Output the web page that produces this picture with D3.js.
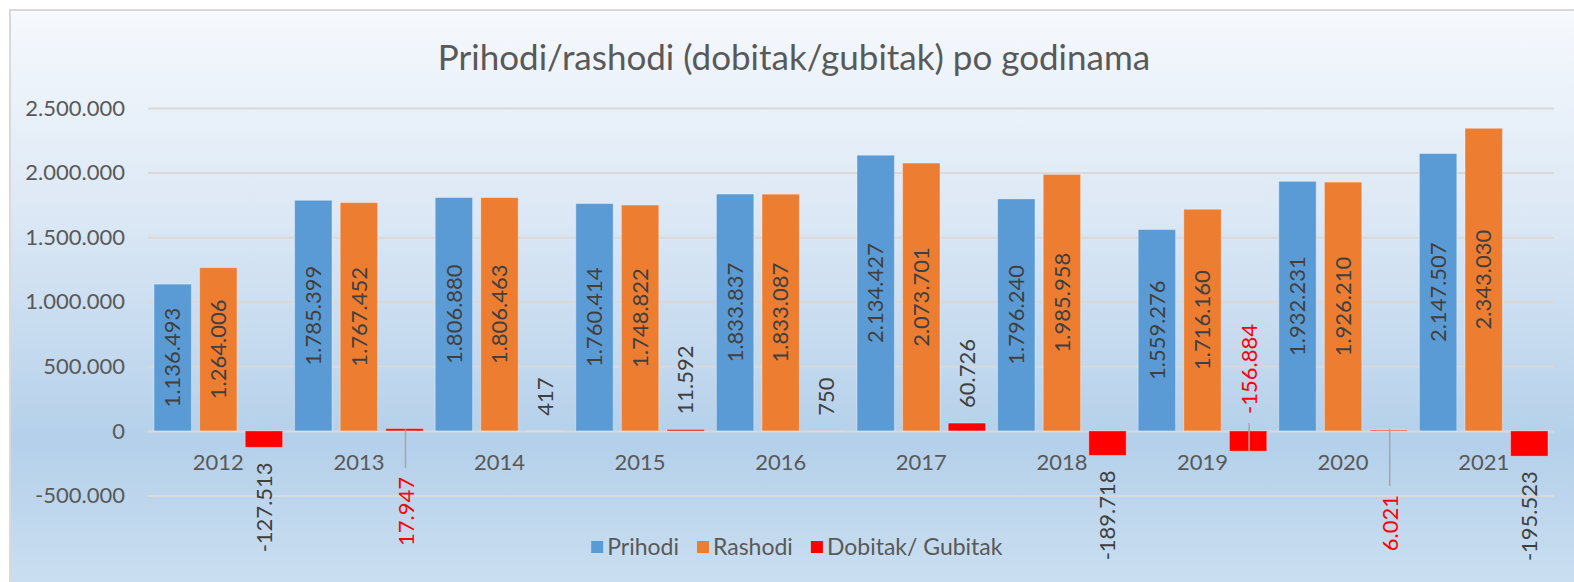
<!DOCTYPE html>
<html>
<head>
    <meta charset="utf-8">
    <style>
        body { margin: 0; background: #ffffff; }
        svg { display: block; font-family: Lato, "Open Sans", sans-serif; }
        .grid line { stroke: #d9d9d9; stroke-width: 2px; }
        .axis-label { fill: #595959; font-size: 22px; }
        .legend-label { fill: #595959; font-size: 23px; }
        .value-label { font-size: 22px; }
    </style>
</head>
<body>
    <script src="https://cdn.jsdelivr.net/npm/d3@7"></script>
    <script>
        // data
        var years = [2012, 2013, 2014, 2015, 2016, 2017, 2018, 2019, 2020, 2021];
        var prihodi = [1136493, 1785399, 1806880, 1760414, 1833837, 2134427, 1796240, 1559276, 1932231, 2147507];
        var rashodi = [1264006, 1767452, 1806463, 1748822, 1833087, 2073701, 1985958, 1716160, 1926210, 2343030];
        var dobitak = [-127513, 17947, 417, 11592, 750, 60726, -189718, -156884, 6021, -195523];
        var yTicks = [-500000, 0, 500000, 1000000, 1500000, 2000000, 2500000];
        var seriesNames = ["Prihodi", "Rashodi", "Dobitak/ Gubitak"];
        var colors = ["#5b9bd5", "#ed7d31", "#ff0000"];

        // labels that were dragged by hand and got a leader line (offset from zero line, px)
        var movedLabels = { 2013: 46, 2019: -17, 2020: 64 };

        var W = 1574, H = 582;
        var plot = { left: 148, right: 1554, top: 108, bottom: 495.5 };

        var svg = d3.select("body").append("svg")
            .attr("width", W)
            .attr("height", H);

        // background gradient of the chart area
        var defs = svg.append("defs");
        var grad = defs.append("linearGradient")
            .attr("id", "bg")
            .attr("x1", 0).attr("y1", 0).attr("x2", 0).attr("y2", 1);
        grad.append("stop").attr("offset", "0%").attr("stop-color", "#f6f9fd");
        grad.append("stop").attr("offset", "35%").attr("stop-color", "#dce8f5");
        grad.append("stop").attr("offset", "74%").attr("stop-color", "#b4d0ea");
        grad.append("stop").attr("offset", "100%").attr("stop-color", "#cbdff1");

        svg.append("rect")
            .attr("x", 10).attr("y", 10)
            .attr("width", W).attr("height", H)
            .attr("fill", "url(#bg)")
            .attr("stroke", "#d9d9d9")
            .attr("stroke-width", 2);

        // scales
        var x = d3.scaleBand().domain(years).range([plot.left, plot.right]).padding(0);
        var xs = d3.scaleBand().domain([0, 1, 2])
            .range([6, x.bandwidth() - 6])
            .paddingInner(0.18);
        var y = d3.scaleLinear().domain([-500000, 2500000]).range([plot.bottom, plot.top]);

        var loc = d3.formatLocale({ decimal: ",", thousands: ".", grouping: [3], currency: ["", ""], minus: "-" });
        var fmt = loc.format(",d");

        // gridlines
        svg.append("g")
            .attr("class", "grid")
            .attr("transform", "translate(" + plot.left + ",0)")
            .call(d3.axisLeft(y).tickValues(yTicks).tickSize(-(plot.right - plot.left)).tickFormat(""))
            .call(function (g) { g.select(".domain").remove(); });

        // y axis labels
        svg.append("g")
            .selectAll("text")
            .data(yTicks)
            .enter().append("text")
            .attr("class", "axis-label")
            .attr("x", 125)
            .attr("y", function (d) { return y(d); })
            .attr("dy", "0.35em")
            .style("text-anchor", "end")
            .text(function (d) { return fmt(d); });

        // bars
        var series = [prihodi, rashodi, dobitak];
        var rows = [];
        series.forEach(function (vals, s) {
            vals.forEach(function (v, i) {
                rows.push({ s: s, year: years[i], v: v });
            });
        });

        var y0 = y(0);
        svg.append("g")
            .selectAll("rect")
            .data(rows)
            .enter().append("rect")
            .attr("x", function (d) { return x(d.year) + xs(d.s); })
            .attr("width", xs.bandwidth())
            .attr("y", function (d) { return Math.min(y(d.v), y0); })
            .attr("height", function (d) { return Math.abs(y(d.v) - y0); })
            .attr("fill", function (d) { return colors[d.s]; })
            .attr("stroke", "rgba(255,255,255,0.35)")
            .attr("stroke-width", 1);

        // category labels next to zero line
        svg.append("g")
            .selectAll("text")
            .data(years)
            .enter().append("text")
            .attr("class", "axis-label")
            .attr("x", function (d) { return x(d) + x.bandwidth() / 2; })
            .attr("y", y0 + 39)
            .style("text-anchor", "middle")
            .text(function (d) { return d; });

        // labels of Prihodi / Rashodi, centred in the bar
        svg.append("g")
            .selectAll("text")
            .data(rows.filter(function (d) { return d.s < 2; }))
            .enter().append("text")
            .attr("class", "value-label")
            .attr("fill", "#404040")
            .attr("transform", function (d) {
                var cx = x(d.year) + xs(d.s) + xs.bandwidth() / 2;
                var cy = (y(d.v) + y0) / 2;
                return "translate(" + cx + "," + cy + ") rotate(-90)";
            })
            .attr("dy", "0.35em")
            .style("text-anchor", "middle")
            .text(function (d) { return fmt(d.v); });

        // labels of Dobitak/Gubitak
        var red = rows.filter(function (d) { return d.s === 2; });
        var lg = svg.append("g");
        red.forEach(function (d) {
            var cx = x(d.year) + xs(2) + xs.bandwidth() / 2;
            var moved = movedLabels[d.year];
            var ty, anchor, col = "#404040";
            if (moved !== undefined) {
                col = "#ff0000";
                ty = y0 + moved;
                anchor = moved > 0 ? "end" : "start";
                var lineFrom = moved > 0 ? ty - 9 : ty + 9;
                var lineTo = moved > 0 ? (d.v > 0 ? y0 - 2 : y(d.v)) : (d.v < 0 ? y(d.v) : y0);
                lg.append("line")
                    .attr("x1", cx + 1).attr("x2", cx + 1)
                    .attr("y1", lineFrom).attr("y2", lineTo)
                    .attr("stroke", "#a6a6a6")
                    .attr("stroke-width", 1.5);
                cx += 1.5;
            } else if (d.v >= 0) {
                ty = y(d.v) - 15;
                anchor = "start";
            } else {
                ty = y(d.v) + 15;
                anchor = "end";
            }
            lg.append("text")
                .attr("class", "value-label")
                .attr("fill", col)
                .attr("transform", "translate(" + cx + "," + ty + ") rotate(-90)")
                .attr("dy", "0.35em")
                .style("text-anchor", anchor)
                .text(fmt(d.v));
        });

        // title
        svg.append("text")
            .attr("x", 794)
            .attr("y", 70)
            .attr("fill", "#595959")
            .style("font-size", "35px")
            .style("text-anchor", "middle")
            .text("Prihodi/rashodi (dobitak/gubitak) po godinama");

        // legend, centred
        var legend = svg.append("g");
        var items = legend.selectAll("g")
            .data(seriesNames)
            .enter().append("g");
        items.append("rect")
            .attr("width", 12).attr("height", 12)
            .attr("y", -6)
            .attr("fill", function (d, i) { return colors[i]; });
        items.append("text")
            .attr("class", "legend-label")
            .attr("x", 16)
            .attr("dy", "0.35em")
            .text(function (d) { return d; });
        var offs = 0;
        items.each(function () {
            var w = this.getBBox().width;
            d3.select(this).attr("transform", "translate(" + offs + ",0)");
            offs += w + 18;
        });
        offs -= 18;
        legend.attr("transform", "translate(" + (797 - offs / 2) + ",547)");
    </script>
</body>
</html>
